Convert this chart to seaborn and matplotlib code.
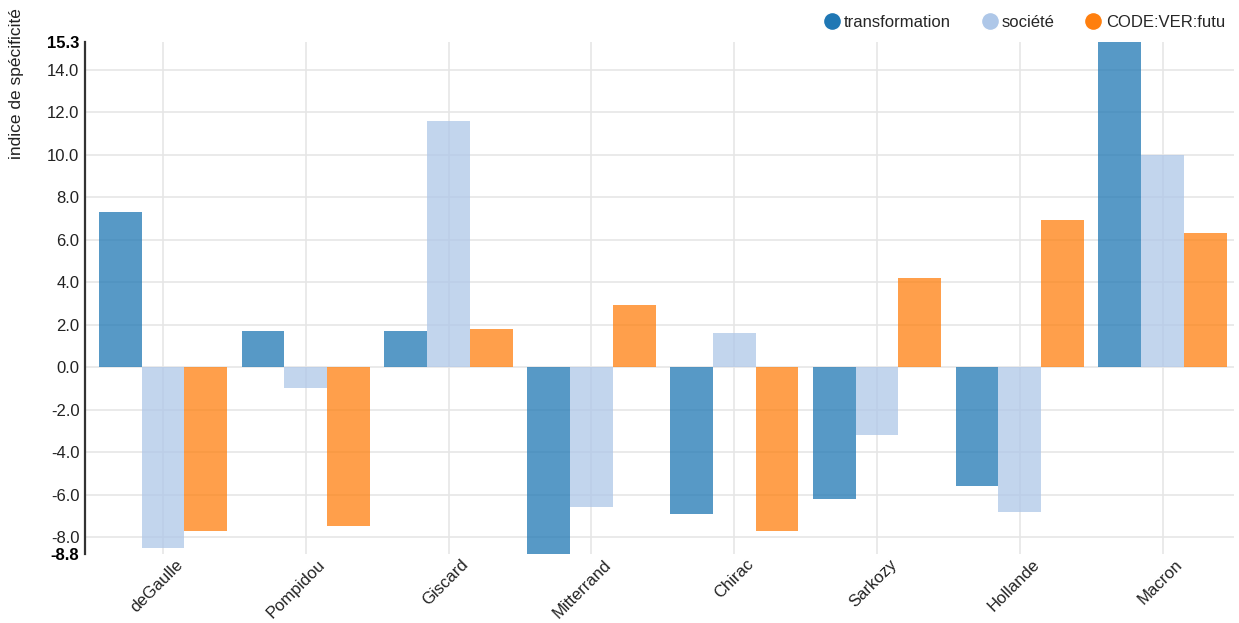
import matplotlib
matplotlib.use("Agg")
import matplotlib.pyplot as plt
import matplotlib.transforms as mtransforms
import seaborn as sns
import pandas as pd
from matplotlib.lines import Line2D

categories = ["deGaulle", "Pompidou", "Giscard", "Mitterrand", "Chirac", "Sarkozy", "Hollande", "Macron"]
series_names = ["transformation", "société", "CODE:VER:futu"]
transformation = [7.3, 1.7, 1.7, -8.8, -6.9, -6.2, -5.6, 15.3]
societe = [-8.5, -1.0, 11.6, -6.6, 1.6, -3.2, -6.8, 10.0]
code_ver_futu = [-7.7, -7.5, 1.8, 2.9, -7.7, 4.2, 6.9, 6.3]
colors = ["#1f77b4", "#aec7e8", "#ff7f0e"]
y_min, y_max = -8.8, 15.3
y_ticks = [-8.0, -6.0, -4.0, -2.0, 0.0, 2.0, 4.0, 6.0, 8.0, 10.0, 12.0, 14.0]

rows = []
for name, vals in zip(series_names, [transformation, societe, code_ver_futu]):
    for c, v in zip(categories, vals):
        rows.append({"president": c, "serie": name, "value": v})
df = pd.DataFrame(rows)

sns.set_style("white")
plt.rcParams['font.family'] = ['Liberation Sans', 'DejaVu Sans']

W, H = 1239, 623
fig = plt.figure(figsize=(W/100, H/100), dpi=100)
ax_left, ax_right, ax_top, ax_bottom = 85, 1234, 42, 554
ax = fig.add_axes([ax_left/W, 1-ax_bottom/H, (ax_right-ax_left)/W, (ax_bottom-ax_top)/H])

sns.barplot(data=df, x="president", y="value", hue="serie", order=categories,
            hue_order=series_names, palette=colors, width=0.9, alpha=0.75,
            saturation=1, ax=ax, legend=False, errorbar=None, linewidth=0)

ax.set_ylim(y_min, y_max)
ax.set_xlim(-0.5 - 0.046, len(categories) - 0.5)
ticks = [y_min] + y_ticks + [y_max]
ax.set_yticks(ticks)
ax.set_yticklabels([f"{t:.1f}" for t in ticks], fontsize=12, color="#222222")
for lbl in (ax.get_yticklabels()[0], ax.get_yticklabels()[-1]):
    lbl.set_fontweight("bold")
    lbl.set_color("black")
ax.tick_params(axis="y", length=0, pad=4)
ax.tick_params(axis="x", length=0, pad=2)
offset = mtransforms.ScaledTranslation(12/100, 0, fig.dpi_scale_trans)
for lbl in ax.get_xticklabels():
    lbl.set_rotation(45)
    lbl.set_ha("right")
    lbl.set_va("top")
    lbl.set_rotation_mode("anchor")
    lbl.set_fontsize(12)
    lbl.set_color("#222222")
    lbl.set_transform(lbl.get_transform() + offset)

for t in y_ticks:
    ax.axhline(t, color="#e6e6e6", lw=1.2, zorder=0)
for i in range(len(categories)):
    ax.axvline(i, color="#e6e6e6", lw=1.2, zorder=0)
ax.set_axisbelow(True)

for s in ["top", "right", "bottom"]:
    ax.spines[s].set_visible(False)
ax.spines["left"].set_color("#333333")
ax.spines["left"].set_linewidth(1.6)
ax.set_xlabel("")
ax.set_ylabel("")

fig.text(17/W, 1-8/H, "indice de spécificité", rotation=90, va="top", ha="center",
         fontsize=12.5, color="#222222")

handles = [Line2D([0], [0], marker="o", color="w", markerfacecolor=c, markersize=13, lw=0)
           for c in colors]
fig.legend(handles, series_names, loc="upper right", bbox_to_anchor=(1240/W, 1.0),
           ncol=3, frameon=False, fontsize=12, handletextpad=0.15, columnspacing=1.7,
           handlelength=1.2)

fig.savefig("out.png", dpi=100)
